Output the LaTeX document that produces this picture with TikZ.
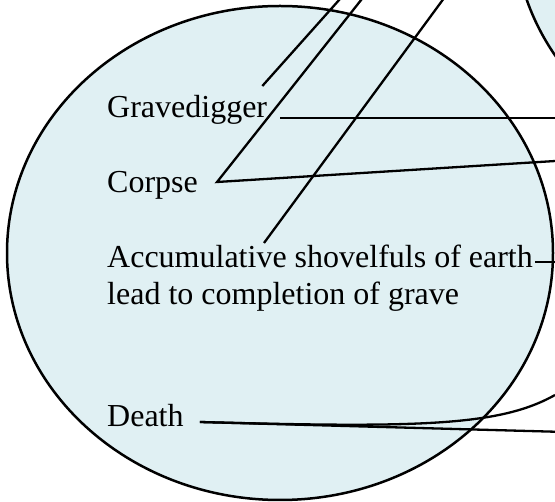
\documentclass[tikz,border=0pt]{standalone}
\usepackage{fontspec}
\setmainfont{Liberation Serif}
\usepackage{tikz}
\usetikzlibrary{calc, positioning}
\definecolor{paleblue}{RGB}{224,240,243}

\begin{document}
\begin{tikzpicture}[x=1pt,y=-1pt,
        word/.style={inner sep=0pt,anchor=base west,font=\fontsize{32}{37}\selectfont},
        blob/.style={fill=paleblue,draw=black,line width=2.5pt},
        link/.style={line width=2.3pt}]
        \useasboundingbox (0,0) rectangle (555,502);
        \clip (0,0) rectangle (555,502);
        \path[blob] (280,253) ellipse [x radius=273,y radius=247]; %左の楕円
        \path[blob] (787,-75) ellipse [x radius=273,y radius=247]; %右上の楕円
        \node[word] (grave) at (107,118) {Gravedigger};
        \node[word] (corpse) at (107,193) {Corpse};
        \node[word,align=left] (earth) at (107,305) {Accumulative shovelfuls of earth\\lead to completion of grave};
        \node[word] (death) at (107,427) {Death};
        \coordinate (earthTop) at (264,243);
        \coordinate (upA) at (348,-10); %上へ
        \coordinate (upB) at (369,-10);
        \coordinate (upC) at (450,-10);
        \coordinate (rightA) at (565,118); %右へ
        \coordinate (rightB) at (565,160.4);
        \coordinate (rightC) at (565,262);
        \coordinate (rightD) at (565,432);
        \coordinate (rightE) at (555,395);
        \draw[link] ([xshift=-5pt,yshift=32pt]grave.base east) -- (upA);
        \draw[link] ([xshift=13pt]grave.base east) -- (rightA);
        \draw[link] (upB) -- ([xshift=19pt,yshift=11pt]corpse.base east) -- (rightB);
        \draw[link] (earthTop) -- (upC);
        \draw[link] ([xshift=2pt]earth.east |- rightC) -- (rightC);
        \draw[link] ([xshift=16pt,yshift=5pt]death.base east) -- (rightD);
        \draw[link] ([xshift=16pt,yshift=5pt]death.base east) .. controls (420,428) and (500,426) .. (rightE);
    \end{tikzpicture}
\end{document}
